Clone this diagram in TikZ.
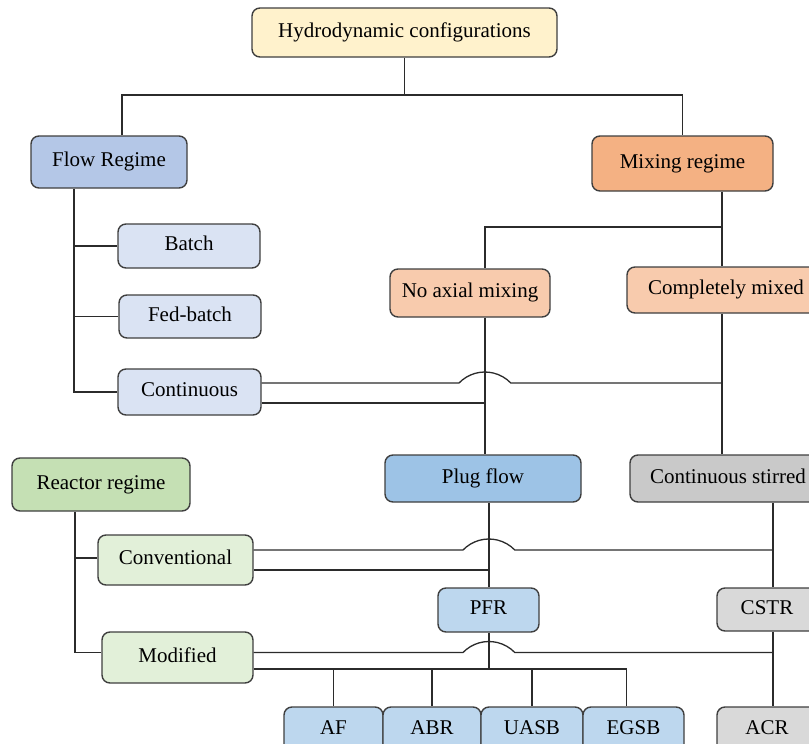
\documentclass[tikz,border=0pt]{standalone}
\usepackage{fontspec}
\setmainfont{Liberation Serif}
\usetikzlibrary{calc,shapes,arrows}

\definecolor{boxline}{HTML}{3F3F3F}
\definecolor{linegray}{HTML}{2B2B2B}
\definecolor{hydrofill}{HTML}{FFF2CC}
\definecolor{flowfill}{HTML}{B4C7E7}
\definecolor{flowsub}{HTML}{DAE3F3}
\definecolor{mixfill}{HTML}{F4B183}
\definecolor{mixsub}{HTML}{F8CBAD}
\definecolor{plugfill}{HTML}{9DC3E6}
\definecolor{plugsub}{HTML}{BDD7EE}
\definecolor{stirfill}{HTML}{C9C9C9}
\definecolor{stirsub}{HTML}{D9D9D9}
\definecolor{reactfill}{HTML}{C5E0B4}
\definecolor{reactsub}{HTML}{E2F0D9}

\begin{document}
\begin{tikzpicture}[x=1pt,y=-1pt,
		box/.style={draw=boxline, line width=1.4pt, rounded corners=8pt, fill=#1, inner sep=0pt,
			text height=14pt, text depth=5pt, font=\fontsize{21}{24}\selectfont},
		link/.style={draw=linegray, line width=1.3pt}]
	\useasboundingbox (0,0) rectangle (809,744);
	\clip (0,0) rectangle (809,744);

	\node[box=hydrofill, minimum width=305pt, minimum height=49pt] (hydro) at (404.5,32.5) {Hydrodynamic configurations};
	\node[box=flowfill, minimum width=156pt, minimum height=52pt] (flow) at (109,162) {Flow Regime};
	\node[box=mixfill, minimum width=181pt, minimum height=55pt] (mixing) at (682.5,163.5) {Mixing regime};
	\node[box=flowsub, minimum width=142pt, minimum height=44pt] (batch) at (189,246) {Batch};
	\node[box=flowsub, minimum width=142pt, minimum height=43pt] (fedbatch) at (190,316.5) {Fed-batch};
	\node[box=flowsub, minimum width=143pt, minimum height=46pt] (continuous) at (189.5,392) {Continuous};
	\node[box=mixsub, minimum width=160pt, minimum height=48pt] (noaxial) at (470,293) {No axial mixing};
	\node[box=mixsub, minimum width=198pt, minimum height=46pt] (complete) at (726,290) {Completely mixed};
	\node[box=plugfill, minimum width=196pt, minimum height=47pt] (plug) at (483,478.5) {Plug flow};
	\node[box=stirfill, minimum width=196pt, minimum height=47pt] (stirred) at (728,478.5) {Continuous stirred};
	\node[box=reactfill, minimum width=178pt, minimum height=53pt] (reactor) at (101,484.5) {Reactor regime};
	\node[box=reactsub, minimum width=155pt, minimum height=50pt] (conventional) at (175.5,560) {Conventional};
	\node[box=reactsub, minimum width=151pt, minimum height=51pt] (modified) at (177.5,657.5) {Modified};
	\node[box=plugsub, minimum width=101pt, minimum height=44pt] (pfr) at (488.5,610) {PFR};
	\node[box=stirsub, minimum width=100pt, minimum height=43pt] (cstr) at (767,609.5) {CSTR};
	\node[box=plugsub, minimum width=99pt, minimum height=46pt] (af) at (333.5,730) {AF};
	\node[box=plugsub, minimum width=98pt, minimum height=46pt] (abr) at (432,730) {ABR};
	\node[box=plugsub, minimum width=102pt, minimum height=46pt] (uasb) at (532,730) {UASB};
	\node[box=plugsub, minimum width=101pt, minimum height=46pt] (egsb) at (633.5,730) {EGSB};
	\node[box=stirsub, minimum width=100pt, minimum height=46pt] (acr) at (767,730) {ACR};

	% vertical runs and buses
	\coordinate (topbus) at (0,95);
	\coordinate (mixbus) at (0,227);
	\coordinate (flowtrunk) at (74,0);
	\coordinate (reacttrunk) at (75,0);
	\coordinate (lineA) at (485,0);
	\coordinate (lineB) at (722,0);
	\coordinate (lineC) at (489,0);
	\coordinate (lineD) at (773,0);

	\coordinate (flowtop) at ([xshift=13pt]flow.north);
	\draw[link] (hydro.south) -- (hydro.south |- topbus);
	\draw[link] (flowtop) -- (flowtop |- topbus) -- (mixing.north |- topbus) -- (mixing.north);

	\draw[link] (flow.south -| flowtrunk) -- (flowtrunk |- continuous.west) -- (continuous.west);
	\draw[link] (flowtrunk |- batch.west) -- (batch.west);
	\draw[link] (flowtrunk |- fedbatch.west) -- (fedbatch.west);

	\draw[link] (mixing.south -| lineB) -- (complete.north -| lineB);
	\draw[link] (lineB |- mixbus) -- (lineA |- mixbus) -- (noaxial.north -| lineA);
	\draw[link] (noaxial.south -| lineA) -- (plug.north -| lineA);
	\draw[link] (complete.south -| lineB) -- (stirred.north -| lineB);

	\coordinate (contup) at ([yshift=9pt]continuous.east);
	\coordinate (contlow) at ([yshift=-11pt]continuous.east);
	\draw[link] (contup) -- ($(contup -| lineA)+(-26,0)$) arc[start angle=136, end angle=44, radius=36pt] -- (contup -| lineB);
	\draw[link] (contlow) -- (contlow -| lineA);

	\coordinate (convleft) at ([yshift=2pt]conventional.west);
	\coordinate (modleft) at ([yshift=5pt]modified.west);
	\draw[link] (reactor.south -| reacttrunk) -- (reacttrunk |- modleft) -- (modleft);
	\draw[link] (reacttrunk |- convleft) -- (convleft);

	\draw[link] (plug.south -| lineC) -- (pfr.north -| lineC);
	\draw[link] (stirred.south -| lineD) -- (cstr.north -| lineD);
	\draw[link] (cstr.south -| lineD) -- (acr.north -| lineD);

	\coordinate (convup) at ([yshift=10pt]conventional.east);
	\coordinate (convlow) at ([yshift=-10pt]conventional.east);
	\draw[link] (convup) -- ($(convup -| lineC)+(-26,0)$) arc[start angle=136, end angle=44, radius=36pt] -- (convup -| lineD);
	\draw[link] (convlow) -- (convlow -| lineC);

	\coordinate (modup) at ([yshift=5pt]modified.east);
	\coordinate (modlow) at ([yshift=-11.5pt]modified.east);
	\coordinate (egsbtop) at ([xshift=-7pt]egsb.north);
	\draw[link] (modup) -- ($(modup -| lineC)+(-26,0)$) arc[start angle=136, end angle=44, radius=36pt] -- (modup -| lineD);
	\draw[link] (pfr.south -| lineC) -- (modlow -| lineC);
	\draw[link] (modlow) -- (modlow -| egsbtop) -- (egsbtop);
	\foreach \n in {af,abr,uasb}
		\draw[link] (modlow -| \n.north) -- (\n.north);
\end{tikzpicture}
\end{document}
